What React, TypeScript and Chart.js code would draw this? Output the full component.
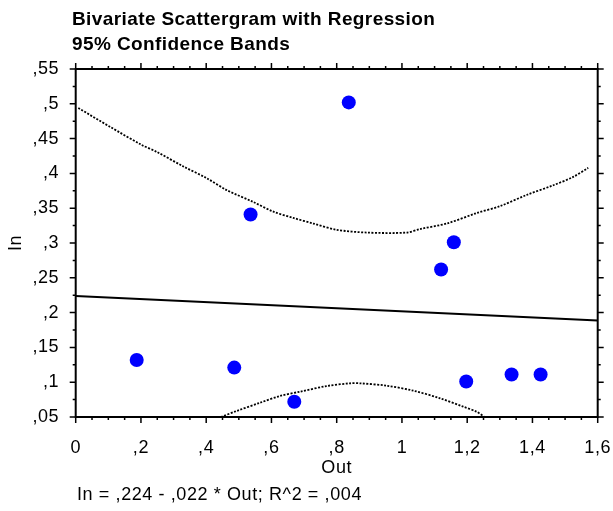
import React, { useEffect, useRef } from 'react';
import { Chart, registerables } from 'chart.js';

Chart.register(...registerables);

// Observed pairs
const outValues = [0.187, 0.486, 0.67, 0.837, 0.536, 1.12, 1.159, 1.197, 1.336, 1.425];
const inValues = [0.132, 0.121, 0.072, 0.502, 0.341, 0.262, 0.301, 0.101, 0.111, 0.111];

// Least-squares fit
const intercept = 0.224;
const slope = -0.022;
const rSquared = 0.004;

// 95% confidence band, upper edge
const upperBandOut = [0.008, 0.105, 0.202, 0.248, 0.33, 0.402, 0.463, 0.544, 0.606, 0.667, 0.728, 0.8, 0.892, 1.015, 1.055, 1.137, 1.229, 1.301, 1.382, 1.464, 1.525, 1.571];
const upperBandIn = [0.494, 0.467, 0.441, 0.431, 0.41, 0.393, 0.376, 0.359, 0.345, 0.336, 0.328, 0.319, 0.315, 0.315, 0.32, 0.328, 0.343, 0.353, 0.369, 0.383, 0.395, 0.408];

// 95% confidence band, lower edge
const lowerBandOut = [0.445, 0.493, 0.565, 0.626, 0.688, 0.769, 0.841, 0.871, 0.953, 1.035, 1.117, 1.188, 1.229, 1.253];
const lowerBandIn = [0.05, 0.0586, 0.0705, 0.0802, 0.0864, 0.0945, 0.0984, 0.0984, 0.095, 0.0878, 0.0769, 0.0648, 0.0576, 0.05];

// Axes
const xMin = 0;
const xMax = 1.6;
const yMin = 0.05;
const yMax = 0.55;
const xTickValues = [0, 0.2, 0.4, 0.6, 0.8, 1, 1.2, 1.4, 1.6];
const xTickLabels = ['0', ',2', ',4', ',6', ',8', '1', '1,2', '1,4', '1,6'];
const yTickValues = [0.05, 0.1, 0.15, 0.2, 0.25, 0.3, 0.35, 0.4, 0.45, 0.5, 0.55];
const yTickLabels = [',05', ',1', ',15', ',2', ',25', ',3', ',35', ',4', ',45', ',5', ',55'];
const xMinorStep = 0.05;
const yMinorStep = 0.025;

const titleLines = ['Bivariate Scattergram with Regression', '95% Confidence Bands'];
const xTitle = 'Out';
const yTitle = 'In';

const FONT = '"Liberation Sans", Arial, Helvetica, sans-serif';
const LABEL_SIZE = 18;
const LABEL_SPACING = '0.6px';

const fmt = (v: number) => v.toFixed(3).replace(/^0\./, ',');
const equationText = `${yTitle} = ${fmt(intercept)} ${slope < 0 ? '-' : '+'} ${fmt(Math.abs(slope))} * ${xTitle}; R^2 = ${fmt(rSquared)}`;

const W = 613;
const H = 511;

const toPoints = (xs: number[], ys: number[]) => xs.map((x, i) => ({ x, y: ys[i] }));

// Box frame with outward major/minor tick marks on all four sides
const framePlugin = {
  id: 'frameTicks',
  afterDatasetsDraw(chart: any) {
    const { ctx, chartArea } = chart;
    const { left, right, top, bottom } = chartArea;
    const xs = chart.scales.x;
    const ys = chart.scales.y;
    ctx.save();
    ctx.strokeStyle = '#000';
    ctx.lineWidth = 1.5;
    ctx.beginPath();
    const nx = Math.round((xMax - xMin) / xMinorStep);
    for (let i = 0; i <= nx; i++) {
      const v = xMin + i * xMinorStep;
      const px = xs.getPixelForValue(v);
      const len = i % 4 === 0 ? 6 : 3;
      ctx.moveTo(px, top);
      ctx.lineTo(px, top - len);
      ctx.moveTo(px, bottom);
      ctx.lineTo(px, bottom + len);
    }
    const ny = Math.round((yMax - yMin) / yMinorStep);
    for (let i = 0; i <= ny; i++) {
      const v = yMin + i * yMinorStep;
      const py = ys.getPixelForValue(v);
      const len = i % 2 === 0 ? 6 : 3;
      ctx.moveTo(left, py);
      ctx.lineTo(left - len, py);
      ctx.moveTo(right, py);
      ctx.lineTo(right + len, py);
    }
    ctx.stroke();
    ctx.lineWidth = 2;
    ctx.strokeRect(left, top, right - left, bottom - top);
    ctx.restore();
  },
};

// Heading and fitted equation
const textPlugin = {
  id: 'captions',
  afterDraw(chart: any) {
    const { ctx } = chart;
    ctx.save();
    ctx.fillStyle = '#000';
    ctx.textAlign = 'left';
    ctx.textBaseline = 'alphabetic';
    (ctx as any).letterSpacing = '0.4px';
    ctx.font = `bold 19px ${FONT}`;
    ctx.fillText(titleLines[0], 72, 25);
    ctx.fillText(titleLines[1], 72, 49.5);
    (ctx as any).letterSpacing = LABEL_SPACING;
    ctx.font = `${LABEL_SIZE}px ${FONT}`;
    ctx.textBaseline = 'middle';
    ctx.fillText(equationText, 77, 495);
    ctx.restore();
  },
};

const spacingPlugin = {
  id: 'labelSpacing',
  beforeDraw(chart: any) {
    (chart.ctx as any).letterSpacing = LABEL_SPACING;
  },
  afterDraw(chart: any) {
    (chart.ctx as any).letterSpacing = '0px';
  },
};

export default function App() {
  const canvasRef = useRef<HTMLCanvasElement | null>(null);

  useEffect(() => {
    const canvas = canvasRef.current;
    if (!canvas) return;

    const bandStyle = {
      showLine: true,
      borderColor: '#000',
      borderWidth: 1.8,
      borderDash: [2, 1.5],
      pointRadius: 0,
      tension: 0.3,
      fill: false,
    };

    const labelFont = { family: FONT, size: LABEL_SIZE };

    const chart = new Chart(canvas, {
      type: 'scatter',
      data: {
        datasets: [
          { ...bandStyle, data: toPoints(upperBandOut, upperBandIn) },
          { ...bandStyle, data: toPoints(lowerBandOut, lowerBandIn) },
          {
            data: [
              { x: xMin, y: intercept + slope * xMin },
              { x: xMax, y: intercept + slope * xMax },
            ],
            showLine: true,
            borderColor: '#000',
            borderWidth: 2,
            pointRadius: 0,
            fill: false,
          },
          {
            data: toPoints(outValues, inValues),
            showLine: false,
            pointRadius: 7,
            pointBackgroundColor: '#0000ff',
            pointBorderColor: '#0000ff',
            pointBorderWidth: 0,
          },
        ],
      },
      options: {
        responsive: false,
        animation: false,
        layout: { padding: { top: 69, right: 15.3, bottom: 0, left: 0 } },
        plugins: {
          legend: { display: false },
          tooltip: { enabled: false },
          title: { display: false },
        },
        scales: {
          x: {
            type: 'linear',
            min: xMin,
            max: xMax,
            afterBuildTicks: (scale: any) => {
              scale.ticks = xTickValues.map((v) => ({ value: v }));
            },
            afterFit: (scale: any) => {
              scale.height = 94;
              scale.paddingLeft = 0;
              scale.paddingRight = 0;
            },
            grid: { display: false, drawTicks: false },
            border: { display: false },
            ticks: {
              autoSkip: false,
              maxRotation: 0,
              padding: 20,
              color: '#000',
              font: labelFont,
              callback: (_v: any, i: number) => xTickLabels[i],
            },
            title: {
              display: true,
              text: xTitle,
              color: '#000',
              font: labelFont,
              padding: { top: 0, bottom: 32.5 },
            },
          },
          y: {
            type: 'linear',
            min: yMin,
            max: yMax,
            afterBuildTicks: (scale: any) => {
              scale.ticks = yTickValues.map((v) => ({ value: v }));
            },
            afterFit: (scale: any) => {
              scale.width = 75.7;
              scale.paddingTop = 0;
              scale.paddingBottom = 0;
            },
            grid: { display: false, drawTicks: false },
            border: { display: false },
            ticks: {
              autoSkip: false,
              padding: 16.5,
              color: '#000',
              font: labelFont,
              callback: (_v: any, i: number) => yTickLabels[i],
            },
            title: {
              display: true,
              text: yTitle,
              color: '#000',
              font: labelFont,
              padding: { top: 5, bottom: 0 },
            },
          },
        },
      },
      plugins: [spacingPlugin, framePlugin, textPlugin],
    } as any);

    return () => chart.destroy();
  }, []);

  return (
    <div style={{ position: 'fixed', left: 0, top: 0, width: W, height: H, background: '#fff' }}>
      <canvas ref={canvasRef} width={W} height={H} style={{ width: W, height: H, display: 'block' }} />
    </div>
  );
}
